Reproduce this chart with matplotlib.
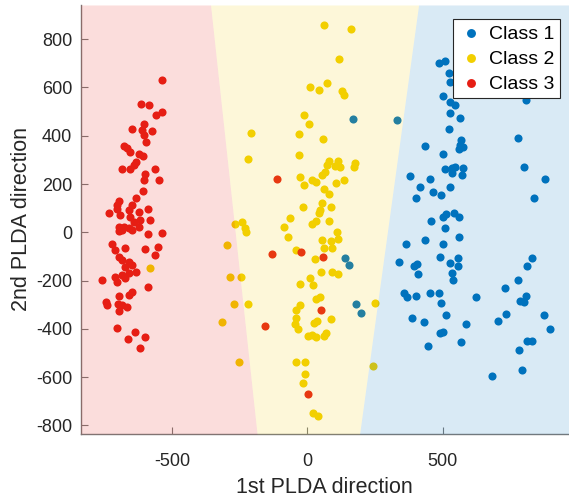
import numpy as np
import matplotlib
matplotlib.use("Agg")
import matplotlib.pyplot as plt

plt.rcParams['font.family'] = ['Liberation Sans', 'DejaVu Sans']
plt.rcParams['axes.unicode_minus'] = False

# === data (PLDA projections)
c1_x = [485, 507, 522, 528, 503, 526, 547, 808, 528, 565, 522, 433, 503, 569, 565, 577, 559, 778,
        802, 879, 510, 534, 547, 577, 571, 534, 378, 454, 415, 526, 463, 495, 400, 836,
        457, 501, 513, 543, 559, 510, 559, 433, 503, 366, 489, 557, 528, 555, 340, 393, 405, 409,
        534, 538, 356, 368, 401, 452, 487, 494, 624, 388, 430, 513, 586, 489, 503, 446, 568, 682,
        830, 812, 777, 731, 808, 787, 801, 735, 706, 873, 895, 811, 830, 784, 793,
        169, 330, 138, 155, 181, 198]
c1_y = [703, 710, 659, 624, 565, 541, 528, 548, 493, 472, 428, 358, 323, 383, 362, 355, 344, 390,
        272, 221, 261, 265, 272, 265, 238, 247, 233, 220, 187, 189, 168, 155, 143, 143,
        47, 65, 75, 79, 65, 17, -20, -32, -50, -49, -104, -108, -129, -140, -122, -138, -133, -174,
        -167, -198, -253, -267, -263, -250, -250, -294, -269, -356, -371, -343, -381, -419, -412, -470, -453, -594,
        -105, -138, -198, -230, -263, -285, -290, -339, -366, -343, -401, -451, -451, -488, -571,
        468, 464, -105, -136, -298, -336]

c2_x = [60, 161, 115, 10, 44, 73, 128, 136, -12, 7, -208, -32, 58, -221, -32, 79, 113, 177, 73, 103,
        122, 171, 64, 54, -28, -14, 17, 32, 107, 136, 60, 79, -16, 54, 89, 48,
        42, -63, 30, 17, 79, -266, -241, -226, -232, -85, -71, 110, 54, 89, 113, 60, 91, -42, -297,
        27, 49, 91, 113, -286, -244, 9, -26, 21, 30, 48, -26, -41, -272, -221, -41, -44, -34, 23, 36,
        89, 3, 17, 30, 60, 70, -315, -254, -42, -10, -10, -17, 21, 38, 251, 241, -580]
c2_y = [858, 841, 719, 602, 589, 620, 586, 569, 486, 450, 410, 407, 385, 305, 322, 296, 297, 288, 279, 276,
        269, 272, 251, 238, 228, 196, 217, 207, 203, 217, 178, 159, 104, 123, 104, 92,
        79, 58, 47, 33, 47, 34, 44, 3, 17, 21, -18, 0, -32, -36, -29, -66, -64, -73, -53,
        -111, -166, -163, -174, -187, -187, -188, -216, -218, -278, -267, -301, -322, -298, -298, -356, -380, -401, -377, -368,
        -359, -429, -426, -433, -429, -419, -371, -539, -536, -536, -587, -623, -750, -760, -294, -554, -149]

c3_x = [-537, -614, -586, -561, -536, -650, -605, -610, -574, -605, -595, -678, -666, -657, -623, -608,
        -635, -641, -684, -654, -564, -601, -605, -547, -609, -632, -697, -705, -647,
        -734, -703, -691, -660, -654, -623, -588, -580, -617, -641, -697, -678, -660, -697, -684, -647,
        -623, -588, -539, -721, -712, -675, -601, -551, -565, -697, -684, -660, -647, -675, -635, -660,
        -684, -712, -703, -761, -675, -588, -647, -660, -697, -746, -739, -699, -684, -666, -697, -703,
        -638, -662, -601, -620,
        -111, -130, -25, 57, 52, -155, 3]
c3_y = [632, 531, 528, 486, 497, 427, 450, 424, 419, 403, 373, 359, 348, 332, 323, 317,
        293, 279, 262, 262, 262, 240, 217, 217, 171, 143, 130, 113, 113,
        79, 97, 72, 92, 65, 85, 97, 51, 51, 44, 23, 23, 17, 5, 10, 10,
        23, -8, -4, -50, -73, -66, -71, -60, -94, -101, -115, -122, -136, -143, -163, -170,
        -177, -184, -207, -199, -188, -228, -249, -260, -263, -288, -301, -298, -301, -308, -326, -395,
        -412, -442, -433, -481,
        222, -91, -83, -101, -322, -388, -671]

# decision boundaries: x at the top and bottom of the view
y_ends = [942, -836]
left_bound = [-358, -186]
right_bound = [411, 193]

x_lim = (-838, 967)
y_lim = (-836, 942)

col1 = '#0072BD'
col2 = '#F2CF00'
col3 = '#E61E14'

fig = plt.figure(figsize=(5.69, 4.97), dpi=100)
ax = fig.add_axes([0.1418, 0.1268, 0.8582, 0.8632])

ax.scatter(c1_x, c1_y, s=34, color=col1, linewidths=0, label='Class 1', zorder=2)
ax.scatter(c2_x, c2_y, s=34, color=col2, linewidths=0, label='Class 2', zorder=2)
ax.scatter(c3_x, c3_y, s=34, color=col3, linewidths=0, label='Class 3', zorder=2)

# === shaded regions drawn over the points (semi-transparent)
a = 0.15
ax.fill_betweenx(y_ends, x_lim[0] - 50, left_bound, color=col3, alpha=a, lw=0, zorder=3)
ax.fill_betweenx(y_ends, left_bound, right_bound, color=col2, alpha=a, lw=0, zorder=3)
ax.fill_betweenx(y_ends, right_bound, x_lim[1] + 50, color=col1, alpha=a, lw=0, zorder=3)

ax.set_xlim(x_lim)
ax.set_ylim(y_lim)
ax.set_xticks([-500, 0, 500])
ax.set_yticks(np.arange(-800, 801, 200))

for side in ['top', 'right']:
    ax.spines[side].set_visible(False)
for side in ['left', 'bottom']:
    ax.spines[side].set_color('#7a7a7a')
    ax.spines[side].set_linewidth(1.0)
ax.tick_params(direction='in', length=5, color='#7a7a7a', labelsize=13,
               labelcolor='#262626')
ax.tick_params(axis='x', pad=14)
ax.tick_params(axis='y', pad=6)

ax.set_xlabel('1st PLDA direction', fontsize=15.5, color='#262626', labelpad=5)
ax.set_ylabel('2nd PLDA direction', fontsize=15.5, color='#262626', labelpad=3)

leg = ax.legend(loc='upper right', bbox_to_anchor=(0.982, 0.967), fontsize=14,
                fancybox=False, framealpha=1, edgecolor='#262626', borderaxespad=0,
                handletextpad=0.35, handlelength=1.2, borderpad=0.3, labelspacing=0.38,
                markerscale=1.1)
leg.get_frame().set_linewidth(0.8)
leg.set_zorder(10)

fig.savefig('out.png', dpi=100)
